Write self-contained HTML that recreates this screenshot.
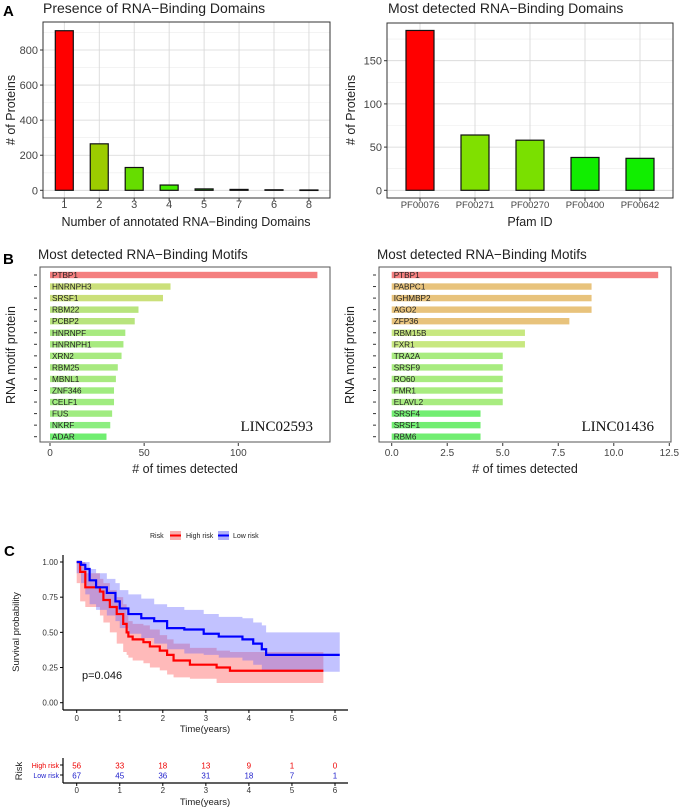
<!DOCTYPE html>
<html><head><meta charset="utf-8"><style>
body{margin:0;background:#fff;}
svg{display:block;font-family:"Liberation Sans",sans-serif;}
</style></head><body>
<svg id="fig" width="681" height="808" viewBox="0 0 681 808"></svg>
<script>
// ---------- Panel A left data ----------
const aCats = ["1","2","3","4","5","7","6","8"];
const aVals = [910, 265, 130, 30, 8, 5, 3, 2];
const aColors = ["#ff0000","#9ccc00","#66dd00","#44ee00","#22ee00","#22ee00","#11ee00","#11ee00"];
const aTicks = [0, 200, 400, 600, 800];
// ---------- Panel A right data ----------
const pCats = ["PF00076","PF00271","PF00270","PF00400","PF00642"];
const pVals = [185, 64, 58, 38, 37];
const pColors = ["#ff0000","#80e000","#7ae000","#11ee00","#11ee00"];
const pTicks = [0, 50, 100, 150];
// ---------- Panel B left data ----------
const m1Names = ["PTBP1","HNRNPH3","SRSF1","RBM22","PCBP2","HNRNPF","HNRNPH1","XRN2","RBM25","MBNL1","ZNF346","CELF1","FUS","NKRF","ADAR"];
const m1Vals = [142, 64, 60, 47, 45, 40, 39, 38, 36, 35, 34, 34, 33, 32, 30];
const m1Colors = ["#f47f7f","#cbe07a","#cbe07a","#b8e47d","#b8e47d","#a8ea80","#a8ea80","#a8ea80","#a8ea80","#a8ea80","#a0ec80","#a0ec80","#a0ec80","#8cee80","#70ee70"];
const m1Ticks = [0, 50, 100];
// ---------- Panel B right data ----------
const m2Names = ["PTBP1","PABPC1","IGHMBP2","AGO2","ZFP36","RBM15B","FXR1","TRA2A","SRSF9","RO60","FMR1","ELAVL2","SRSF4","SRSF1","RBM6"];
const m2Vals = [12, 9, 9, 9, 8, 6, 6, 5, 5, 5, 5, 5, 4, 4, 4];
const m2Colors = ["#f47f7f","#e8c37c","#e8c37c","#e8c37c","#e8c37c","#c8e880","#c8e880","#a8ec80","#a8ec80","#a8ec80","#a8ec80","#a8ec80","#72ee72","#72ee72","#72ee72"];
const m2Ticks = [0, 2.5, 5, 7.5, 10, 12.5];
const m2TickLabels = ["0.0","2.5","5.0","7.5","10.0","12.5"];
// ---------- Panel C data ----------
const highT = [0, 0.08, 0.2, 0.54, 0.62, 0.77, 0.93, 1.08, 1.16, 1.2, 1.3, 1.55, 1.7, 1.93, 2.1, 2.25, 2.63, 3.25, 3.56, 5.73];
const highS = [1.0, 0.93, 0.82, 0.79, 0.73, 0.68, 0.63, 0.56, 0.5, 0.47, 0.45, 0.43, 0.4, 0.37, 0.34, 0.3, 0.27, 0.25, 0.227, 0.227];
const highUp = [1.0, 1.0, 0.92, 0.88, 0.85, 0.8, 0.75, 0.7, 0.62, 0.58, 0.56, 0.55, 0.52, 0.48, 0.45, 0.42, 0.39, 0.37, 0.36, 0.37];
const highLo = [1.0, 0.85, 0.72, 0.68, 0.62, 0.57, 0.5, 0.42, 0.36, 0.34, 0.32, 0.3, 0.28, 0.25, 0.23, 0.2, 0.18, 0.17, 0.14, 0.14];
const lowT = [0, 0.1, 0.2, 0.3, 0.45, 0.7, 0.9, 1.0, 1.2, 1.5, 1.8, 2.1, 2.5, 2.95, 3.3, 3.85, 4.1, 4.3, 4.4, 6.11];
const lowS = [1.0, 0.98, 0.95, 0.87, 0.82, 0.78, 0.72, 0.67, 0.63, 0.6, 0.58, 0.53, 0.52, 0.49, 0.47, 0.45, 0.42, 0.38, 0.34, 0.34];
const lowUp = [1.0, 1.0, 1.0, 0.95, 0.92, 0.88, 0.85, 0.8, 0.77, 0.74, 0.7, 0.68, 0.66, 0.63, 0.61, 0.6, 0.57, 0.55, 0.5, 0.5];
const lowLo = [1.0, 0.92, 0.85, 0.77, 0.7, 0.66, 0.62, 0.58, 0.53, 0.49, 0.46, 0.42, 0.38, 0.35, 0.34, 0.32, 0.3, 0.27, 0.22, 0.22];
const cXTicks = [0, 1, 2, 3, 4, 5, 6];
const cYTicks = [0, 0.25, 0.5, 0.75, 1.0];
const cYLabels = ["0.00","0.25","0.50","0.75","1.00"];
const riskHigh = [56, 33, 18, 13, 9, 1, 0];
const riskLow = [67, 45, 36, 31, 18, 7, 1];

const NS = "http://www.w3.org/2000/svg";
const svg = document.getElementById("fig");
function el(tag, attrs, parent) {
  const e = document.createElementNS(NS, tag);
  for (const k in attrs) e.setAttribute(k, attrs[k]);
  (parent || svg).appendChild(e);
  return e;
}
function txt(s, x, y, size, opts, parent) {
  const a = Object.assign({x: x, y: y, "font-size": size, fill: "#222"}, opts || {});
  const t = el("text", a, parent);
  t.textContent = s;
  return t;
}

// ===== Panel A left =====
(function(){
  const g = el("g", {});
  
  
  const L = 43, R = 330, T = 22, B = 198, y0 = 190.3, k = 140.3 / 800;
  const ys = v => y0 - v * k;
  const xs = i => 64.3 + i * 34.95;
  let t = txt("A", 3, 16, 15, {"font-weight": "bold", fill: "#000"}, g);
  
  
  t = txt("Presence of RNA\u2212Binding Domains", 43, 13, 14, {}, g);
  
  
  el("rect", {x: L, y: T, width: R - L, height: B - T, fill: "#fff"}, g);
  for (let i = 0; i < aTicks.length; i++) {
    el("line", {x1: L, x2: R, y1: ys(aTicks[i]), y2: ys(aTicks[i]), stroke: "#d6d6d6", "stroke-width": 0.8}, g);
    el("line", {x1: L, x2: R, y1: ys(aTicks[i] + 100), y2: ys(aTicks[i] + 100), stroke: "#ececec", "stroke-width": 0.6}, g);
    el("line", {x1: L - 3, x2: L, y1: ys(aTicks[i]), y2: ys(aTicks[i]), stroke: "#333"}, g);
    const tl = txt(String(aTicks[i]), L - 5, ys(aTicks[i]) + 4, 11, {"text-anchor": "end", fill: "#444"}, g);
    
    
  }
  for (let i = 0; i < aCats.length; i++) {
    el("line", {x1: xs(i), x2: xs(i), y1: T, y2: B, stroke: "#d6d6d6", "stroke-width": 0.8}, g);
  }
  for (let i = 0; i < aCats.length; i++) {
    const b = el("rect", {x: xs(i) - 9, y: ys(aVals[i]), width: 18, height: Math.max(y0 - ys(aVals[i]), 0.5), fill: aColors[i], stroke: "#111", "stroke-width": 1.2}, g);
    
    
    el("line", {x1: xs(i), x2: xs(i), y1: B, y2: B + 3, stroke: "#333"}, g);
    const tl = txt(aCats[i], xs(i), 208, 11, {"text-anchor": "middle", fill: "#444"}, g);
    
    
  }
  el("rect", {x: L, y: T, width: R - L, height: B - T, fill: "none", stroke: "#333", "stroke-width": 1}, g);
  t = txt("Number of annotated RNA\u2212Binding Domains", 186, 226, 12.5, {"text-anchor": "middle"}, g);
  
  
  t = txt("# of Proteins", 0, 0, 12.5, {"text-anchor": "middle", transform: "translate(15,110) rotate(-90)"}, g);
  
  
})();

// ===== Panel A right =====
(function(){
  const g = el("g", {});
  
  
  const L = 387, R = 673, T = 23, B = 198, y0 = 190.3, k = 129.6 / 150;
  const ys = v => y0 - v * k;
  const xs = i => 420 + i * 55;
  let t = txt("Most detected RNA\u2212Binding Domains", 388, 13, 14, {}, g);
  
  
  for (let i = 0; i < pTicks.length; i++) {
    el("line", {x1: L, x2: R, y1: ys(pTicks[i]), y2: ys(pTicks[i]), stroke: "#d6d6d6", "stroke-width": 0.8}, g);
    el("line", {x1: L, x2: R, y1: ys(pTicks[i] + 25), y2: ys(pTicks[i] + 25), stroke: "#ececec", "stroke-width": 0.6}, g);
    el("line", {x1: L - 3, x2: L, y1: ys(pTicks[i]), y2: ys(pTicks[i]), stroke: "#333"}, g);
    const tl = txt(String(pTicks[i]), L - 5, ys(pTicks[i]) + 4, 11, {"text-anchor": "end", fill: "#444"}, g);
    
    
  }
  for (let i = 0; i < pCats.length; i++) {
    el("line", {x1: xs(i), x2: xs(i), y1: T, y2: B, stroke: "#d6d6d6", "stroke-width": 0.8}, g);
  }
  for (let i = 0; i < pCats.length; i++) {
    const b = el("rect", {x: xs(i) - 14, y: ys(pVals[i]), width: 28, height: y0 - ys(pVals[i]), fill: pColors[i], stroke: "#111", "stroke-width": 1.2}, g);
    
    
    el("line", {x1: xs(i), x2: xs(i), y1: B, y2: B + 3, stroke: "#333"}, g);
    const tl = txt(pCats[i], xs(i), 208, 9.5, {"text-anchor": "middle", fill: "#444"}, g);
    
    
  }
  el("rect", {x: L, y: T, width: R - L, height: B - T, fill: "none", stroke: "#333", "stroke-width": 1}, g);
  t = txt("Pfam ID", 530, 226, 12.5, {"text-anchor": "middle"}, g);
  
  
  t = txt("# of Proteins", 0, 0, 12.5, {"text-anchor": "middle", transform: "translate(355,110) rotate(-90)"}, g);
  
  
})();

// ===== Panel B motif charts =====
function motifChart(cfg, names, vals, colors, ticks, tickLabels) {
  const g = el("g", {});
  
  
  const xs = v => cfg.x0 + v * cfg.k;
  const ys = i => 275 + i * 11.55;
  if (cfg.letter) {
    const lt = txt(cfg.letter, 3, 264, 15, {"font-weight": "bold", fill: "#000"}, g);
    
    
  }
  let t = txt("Most detected RNA\u2212Binding Motifs", cfg.L - 2, 259, 13.5, {}, g);
  
  
  for (let i = 0; i < names.length; i++) {
    el("line", {x1: cfg.L - 6, x2: cfg.L - 3, y1: ys(i), y2: ys(i), stroke: "#333"}, g);
    const b = el("rect", {x: xs(0), y: ys(i) - 3.2, width: xs(vals[i]) - xs(0), height: 6.4, fill: colors[i]}, g);
    
    
    const lb = txt(names[i], xs(0) + 2, ys(i) + 3, 8.2, {fill: "#222"}, g);
    
    
  }
  for (let i = 0; i < ticks.length; i++) {
    el("line", {x1: xs(ticks[i]), x2: xs(ticks[i]), y1: 443, y2: 446, stroke: "#333"}, g);
    const tl = txt(tickLabels[i], xs(ticks[i]), 456, 10, {"text-anchor": "middle", fill: "#444"}, g);
    
    
  }
  el("rect", {x: cfg.L, y: 267, width: cfg.R - cfg.L, height: 175, fill: "none", stroke: "#555", "stroke-width": 1}, g);
  t = txt(cfg.lnc, cfg.R - 17, 431, 15, {"text-anchor": "end", "font-family": "Liberation Serif, serif", fill: "#111"}, g);
  
  
  t = txt("# of times detected", (cfg.L + cfg.R) / 2, 473, 12.5, {"text-anchor": "middle"}, g);
  
  
  t = txt("RNA motif protein", 0, 0, 12.5, {"text-anchor": "middle", transform: "translate(" + (cfg.L - 25) + ",355) rotate(-90)"}, g);
  
  
}
motifChart({name: "motifs-linc02593-chart", letter: "B", L: 40, R: 330, x0: 50, k: 188.3 / 100, lnc: "LINC02593"}, m1Names, m1Vals, m1Colors, m1Ticks, m1Ticks.map(String));
motifChart({name: "motifs-linc01436-chart", letter: null, L: 379, R: 671, x0: 391.7, k: 277.6 / 12.5, lnc: "LINC01436"}, m2Names, m2Vals, m2Colors, m2Ticks, m2TickLabels);

// ===== Panel C survival =====
(function(){
  const g = el("g", {});
  
  
  const xs = v => 76.7 + v * 43.05;
  const ys = v => 702.7 - v * 140.7;
  let t = txt("C", 4, 556, 15, {"font-weight": "bold", fill: "#000"}, g);
  
  
  const lg = el("g", {}, g);
  
  
  txt("Risk", 150, 538, 7, {fill: "#222"}, lg);
  el("rect", {x: 170, y: 531, width: 11, height: 9, fill: "#f8b0b0"}, lg);
  el("line", {x1: 170, x2: 181, y1: 535.5, y2: 535.5, stroke: "#f00", "stroke-width": 2}, lg);
  let le = txt("High risk", 186, 538, 7, {}, lg);
  
  
  el("rect", {x: 218, y: 531, width: 11, height: 9, fill: "#b0b0f8"}, lg);
  el("line", {x1: 218, x2: 229, y1: 535.5, y2: 535.5, stroke: "#00f", "stroke-width": 2}, lg);
  le = txt("Low risk", 233, 538, 7, {}, lg);
  
  

  function stepPath(T, S) {
    let d = "M" + xs(T[0]) + "," + ys(S[0]);
    for (let i = 1; i < T.length; i++) d += "H" + xs(T[i]) + "V" + ys(S[i]);
    return d;
  }
  function band(T, U, Lo) {
    let d = "M" + xs(T[0]) + "," + ys(U[0]);
    for (let i = 1; i < T.length; i++) d += "H" + xs(T[i]) + "V" + ys(U[i]);
    for (let i = T.length - 1; i > 0; i--) d += "V" + ys(Lo[i]) + "H" + xs(T[i - 1]);
    return d + "V" + ys(Lo[0]) + "Z";
  }
  let p = el("path", {d: band(highT, highUp, highLo), fill: "#f66", "fill-opacity": 0.45}, g);
  
  
  p = el("path", {d: band(lowT, lowUp, lowLo), fill: "#66f", "fill-opacity": 0.4}, g);
  
  
  p = el("path", {d: stepPath(highT, highS), fill: "none", stroke: "#f00", "stroke-width": 2.2}, g);
  
  
  p = el("path", {d: stepPath(lowT, lowS), fill: "none", stroke: "#00f", "stroke-width": 2.2}, g);
  
  

  el("line", {x1: 63, x2: 63, y1: 555, y2: 710, stroke: "#000", "stroke-width": 1.2}, g);
  el("line", {x1: 63, x2: 348, y1: 710, y2: 710, stroke: "#000", "stroke-width": 1.2}, g);
  for (let i = 0; i < cYTicks.length; i++) {
    el("line", {x1: 60, x2: 63, y1: ys(cYTicks[i]), y2: ys(cYTicks[i]), stroke: "#000"}, g);
    const tl = txt(cYLabels[i], 58, ys(cYTicks[i]) + 3, 8, {"text-anchor": "end", fill: "#333"}, g);
    
    
  }
  for (let i = 0; i < cXTicks.length; i++) {
    el("line", {x1: xs(cXTicks[i]), x2: xs(cXTicks[i]), y1: 710, y2: 713, stroke: "#000"}, g);
    const tl = txt(String(cXTicks[i]), xs(cXTicks[i]), 721, 8, {"text-anchor": "middle", fill: "#333"}, g);
    
    
  }
  t = txt("Time(years)", 205, 732, 9.5, {"text-anchor": "middle"}, g);
  
  
  t = txt("Survival probability", 0, 0, 9.5, {"text-anchor": "middle", transform: "translate(19,632) rotate(-90)"}, g);
  
  
  t = txt("p=0.046", 82, 679, 11, {fill: "#111"}, g);
  
  

  const rt = el("g", {}, g);
  
  
  txt("High risk", 59, 768, 7, {"text-anchor": "end", fill: "#e00"}, rt);
  txt("Low risk", 59, 778, 7, {"text-anchor": "end", fill: "#22c"}, rt);
  el("line", {x1: 60, x2: 63, y1: 765, y2: 765, stroke: "#000"}, rt);
  el("line", {x1: 60, x2: 63, y1: 775, y2: 775, stroke: "#000"}, rt);
  for (let i = 0; i < cXTicks.length; i++) {
    const a = txt(String(riskHigh[i]), xs(cXTicks[i]), 768.5, 8, {"text-anchor": "middle", fill: "#e00"}, rt);
    
    
    const b = txt(String(riskLow[i]), xs(cXTicks[i]), 778.5, 8, {"text-anchor": "middle", fill: "#22c"}, rt);
    
    
    el("line", {x1: xs(cXTicks[i]), x2: xs(cXTicks[i]), y1: 783, y2: 786, stroke: "#000"}, rt);
    txt(String(cXTicks[i]), xs(cXTicks[i]), 793, 8, {"text-anchor": "middle", fill: "#333"}, rt);
  }
  el("line", {x1: 63, x2: 63, y1: 758, y2: 783, stroke: "#000", "stroke-width": 1.2}, rt);
  el("line", {x1: 63, x2: 348, y1: 783, y2: 783, stroke: "#000", "stroke-width": 1.2}, rt);
  t = txt("Time(years)", 205, 805, 9.5, {"text-anchor": "middle"}, rt);
  
  
  t = txt("Risk", 0, 0, 9.5, {"text-anchor": "middle", transform: "translate(22,771) rotate(-90)"}, rt);
  
  
})();
</script>
</body></html>
